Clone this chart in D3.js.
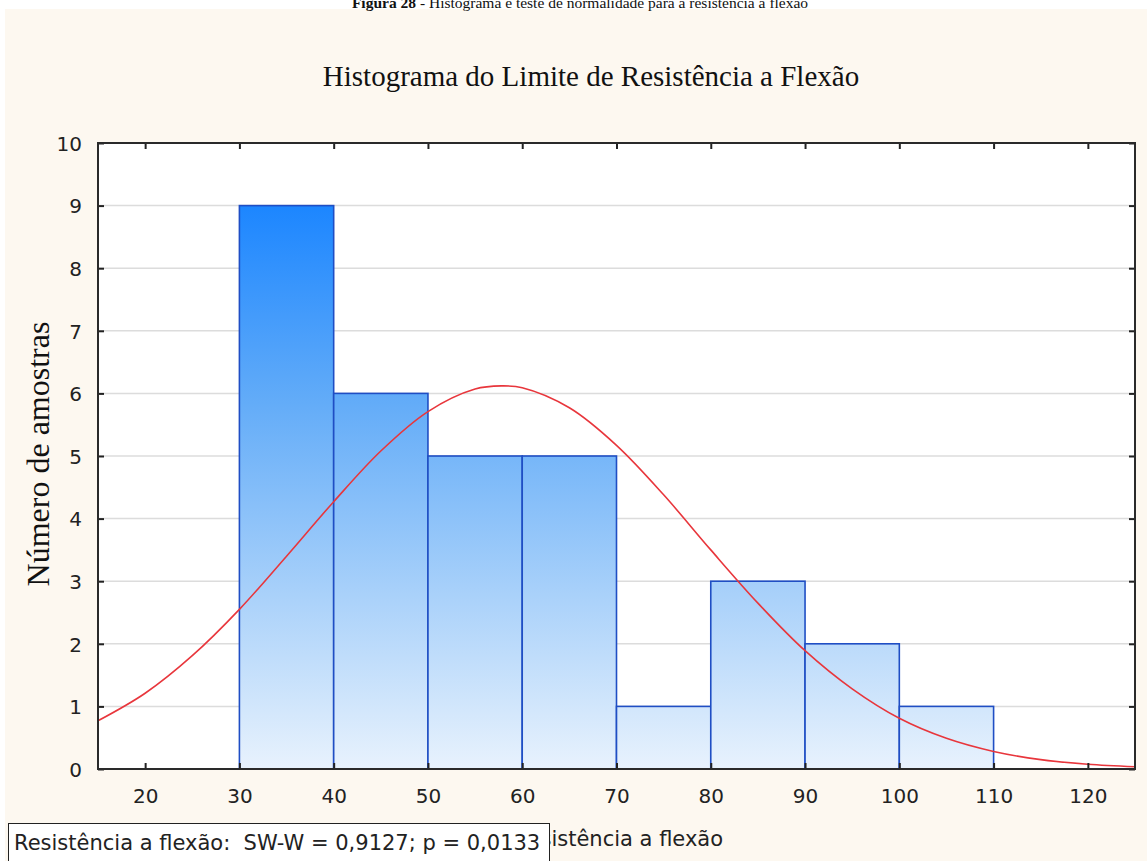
<!DOCTYPE html>
<html>
<head>
<meta charset="utf-8">
<script src="https://cdn.jsdelivr.net/npm/d3@7"></script>
<style>
  body { margin: 0; background: #ffffff; }
  svg { display: block; }
</style>
</head>
<body>
<svg id="chart" width="1147" height="861"></svg>
<script>
let WIDTH = 1147, HEIGHT = 861;
let M = { top: 143, right: 12, bottom: 92, left: 98 };

// histogram bins (lower edge, upper edge, count)
let binStarts = [30, 40, 50, 60, 70, 80, 90, 100];
let binEnds   = [40, 50, 60, 70, 80, 90, 100, 110];
let counts    = [9, 6, 5, 5, 1, 3, 2, 1];

// fitted normal curve
let curveX = [15, 20, 25, 30, 35, 40, 45, 50, 55, 57.8, 60, 65, 70, 75, 80, 85, 90, 95, 100, 105, 110, 115, 120, 125];
let curveY = [0.77, 1.21, 1.81, 2.55, 3.40, 4.27, 5.08, 5.71, 6.07, 6.12, 6.09, 5.77, 5.17, 4.38, 3.50, 2.65, 1.89, 1.28, 0.81, 0.49, 0.28, 0.15, 0.076, 0.037];

let xTicks = [20, 30, 40, 50, 60, 70, 80, 90, 100, 110, 120];
let yTicks = [0, 1, 2, 3, 4, 5, 6, 7, 8, 9, 10];

let captionBold = "Figura 28";
let captionRest = " - Histograma e teste de normalidade para a resistência a flexão";
let title = "Histograma do Limite de Resistência a Flexão";
let yLabel = "Número de amostras";
let xLabel = "Resistência a flexão";
let statsText = "Resistência a flexão:  SW-W = 0,9127; p = 0,0133";

function init() {
    let svg = d3.select("#chart");
    let plotW = WIDTH - M.left - M.right;
    let plotH = HEIGHT - M.top - M.bottom;

    let x = d3.scaleLinear().domain([15, 125]).range([M.left, M.left + plotW]);
    let y = d3.scaleLinear().domain([0, 10]).range([M.top + plotH, M.top]);

    let serif = "Liberation Serif, Times New Roman, serif";
    let sans = "DejaVu Sans, Verdana, sans-serif";

    // page background
    svg.append("rect")
        .attr("x", 5).attr("y", 9)
        .attr("width", WIDTH - 5).attr("height", HEIGHT - 9)
        .attr("fill", "#fdf8f0");

    // cut-off caption at the very top (only its lower half shows)
    let cap = svg.append("text")
        .attr("x", 580).attr("y", 8)
        .attr("text-anchor", "middle")
        .attr("font-family", serif)
        .attr("font-size", 15.5)
        .attr("fill", "#111");
    cap.append("tspan").attr("font-weight", "bold").text(captionBold);
    cap.append("tspan").text(captionRest);

    // title
    svg.append("text")
        .attr("x", 591).attr("y", 86)
        .attr("text-anchor", "middle")
        .attr("font-family", serif)
        .attr("font-size", 29)
        .attr("fill", "#111")
        .text(title);

    // plot background
    svg.append("rect")
        .attr("x", M.left).attr("y", M.top)
        .attr("width", plotW).attr("height", plotH)
        .attr("fill", "#ffffff");

    // gridlines
    svg.append("g")
        .selectAll("line")
        .data(yTicks.filter(d => d > 0 && d < 10))
        .join("line")
        .attr("x1", M.left).attr("x2", M.left + plotW)
        .attr("y1", d => y(d)).attr("y2", d => y(d))
        .attr("stroke", "#dcdcdc")
        .attr("stroke-width", 1.5);

    // gradient shared by all bars (depends on height in plot)
    let defs = svg.append("defs");
    let grad = defs.append("linearGradient")
        .attr("id", "barGrad")
        .attr("gradientUnits", "userSpaceOnUse")
        .attr("x1", 0).attr("x2", 0)
        .attr("y1", y(9)).attr("y2", y(0));
    grad.selectAll("stop")
        .data([
            { offset: "0%", color: "#1c86ff" },
            { offset: "35%", color: "#63acf8" },
            { offset: "70%", color: "#abd2fa" },
            { offset: "100%", color: "#e8f2fd" }
        ])
        .join("stop")
        .attr("offset", d => d.offset)
        .attr("stop-color", d => d.color);

    let bins = counts.map((c, i) => ({ x0: binStarts[i], x1: binEnds[i], n: c }));

    svg.append("g")
        .selectAll("rect")
        .data(bins)
        .join("rect")
        .attr("x", d => x(d.x0))
        .attr("y", d => y(d.n))
        .attr("width", d => x(d.x1) - x(d.x0))
        .attr("height", d => y(0) - y(d.n))
        .attr("fill", "url(#barGrad)")
        .attr("stroke", "#1f4ec4")
        .attr("stroke-width", 1.6);

    // normal curve
    let pts = curveX.map((v, i) => [v, curveY[i]]);
    let line = d3.line()
        .x(d => x(d[0]))
        .y(d => y(d[1]))
        .curve(d3.curveCatmullRom);
    svg.append("path")
        .datum(pts)
        .attr("d", line)
        .attr("fill", "none")
        .attr("stroke", "#e8363c")
        .attr("stroke-width", 1.6);

    // axes with inward ticks on all four sides
    let bottomAxis = svg.append("g")
        .attr("transform", `translate(0, ${M.top + plotH})`)
        .call(d3.axisBottom(x).tickValues(xTicks).tickSizeInner(-6).tickSizeOuter(0).tickPadding(20));
    let topAxis = svg.append("g")
        .attr("transform", `translate(0, ${M.top})`)
        .call(d3.axisTop(x).tickValues(xTicks).tickSizeInner(-6).tickSizeOuter(0).tickFormat(""));
    let leftAxis = svg.append("g")
        .attr("transform", `translate(${M.left}, 0)`)
        .call(d3.axisLeft(y).tickValues(yTicks).tickSizeInner(-6).tickSizeOuter(0).tickPadding(16));
    let rightAxis = svg.append("g")
        .attr("transform", `translate(${M.left + plotW}, 0)`)
        .call(d3.axisRight(y).tickValues(yTicks).tickSizeInner(-6).tickSizeOuter(0).tickFormat(""));

    [bottomAxis, topAxis, leftAxis, rightAxis].forEach(function (g) {
        g.select(".domain").remove();
        g.selectAll(".tick line").attr("stroke", "#222").attr("stroke-width", 2);
        g.selectAll(".tick text")
            .attr("font-family", sans)
            .attr("font-size", 20)
            .attr("fill", "#222");
    });
    leftAxis.selectAll(".tick text").attr("dy", "0.36em");

    // frame
    svg.append("rect")
        .attr("x", M.left).attr("y", M.top)
        .attr("width", plotW).attr("height", plotH)
        .attr("fill", "none")
        .attr("stroke", "#2a2a2a")
        .attr("stroke-width", 2);

    // axis labels
    svg.append("text")
        .attr("transform", `translate(49, ${M.top + plotH / 2 - 2}) rotate(-90)`)
        .attr("text-anchor", "middle")
        .attr("font-family", serif)
        .attr("font-size", 32)
        .attr("fill", "#111")
        .text(yLabel);

    svg.append("text")
        .attr("x", M.left + plotW / 2 + 2).attr("y", 846)
        .attr("text-anchor", "middle")
        .attr("font-family", sans)
        .attr("font-size", 21)
        .attr("fill", "#222")
        .text(xLabel);

    // stats box over the x label
    svg.append("rect")
        .attr("x", 8.5).attr("y", 823.5)
        .attr("width", 541).attr("height", 45)
        .attr("fill", "#ffffff")
        .attr("stroke", "#222")
        .attr("stroke-width", 1);
    svg.append("text")
        .attr("x", 14).attr("y", 850)
        .attr("xml:space", "preserve")
        .style("white-space", "pre")
        .attr("font-family", sans)
        .attr("font-size", 21)
        .attr("fill", "#222")
        .text(statsText);
}

init();
</script>
</body>
</html>
